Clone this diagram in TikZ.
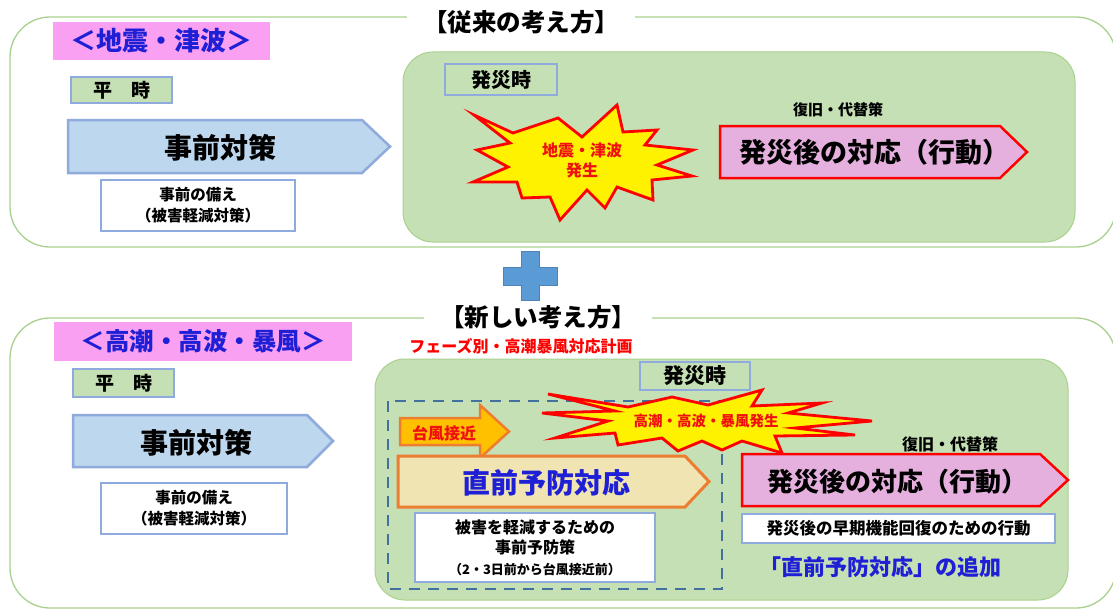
\documentclass[tikz,border=0pt]{standalone}
\usepackage{fontspec}
\setmainfont{Noto Sans CJK JP}
\definecolor{pgreen}{HTML}{A9D18E}
\definecolor{lgreen}{HTML}{C5E0B4}
\definecolor{bblue}{HTML}{8FAADC}
\definecolor{lblue}{HTML}{BDD7EE}
\definecolor{pinkl}{HTML}{F9A0F2}
\definecolor{tblue}{HTML}{1F1FD6}
\definecolor{mauve}{HTML}{E6B0DE}
\definecolor{orng}{HTML}{ED7D31}
\definecolor{goldc}{HTML}{FFC000}
\definecolor{tanc}{HTML}{EFE4B2}
\definecolor{dashcol}{HTML}{41719C}
\definecolor{pluscol}{HTML}{5B9BD5}
\definecolor{redt}{HTML}{F01010}
\newcommand{\fz}[2]{\fontsize{#1pt}{#2pt}\selectfont\bfseries}
\tikzset{
  panel/.style={draw=pgreen, line width=1.3pt, fill=white, rounded corners=40pt},
  gpanel/.style={draw=pgreen, line width=1pt, fill=lgreen, rounded corners=30pt},
  bbox/.style={draw=bblue, line width=2.5pt, inner sep=0pt, align=center},
  title/.style={fill=white, inner xsep=16pt, inner ysep=2pt, font=\fz{24.5}{28}},
  pinklabel/.style={fill=pinkl, inner sep=0pt, text=tblue, font=\fz{26}{30}},
  bluearrow/.style={fill=lblue, draw=bblue, line width=2.5pt, line join=miter},
  pinkarrow/.style={fill=mauve, draw=red, line width=2.5pt, line join=miter},
  tanarrow/.style={fill=tanc, draw=orng, line width=3pt, line join=miter},
  orarrow/.style={fill=goldc, draw=orng, line width=2.5pt, line join=miter},
  burst/.style={fill=yellow, draw=red, line width=2.8pt, line join=miter},
  lbl/.style={inner sep=0pt, align=center},
}
\begin{document}
\begin{tikzpicture}[x=1pt,y=-1pt]
\useasboundingbox (0,0) rectangle (1113,610);
\fill[white] (0,0) rectangle (1113,610);

% ================= top panel =================
\draw[panel] (10,17) rectangle (1116,247);
\node[title] (t1) at (521,22) {【従来の考え方】};
\node[pinklabel, minimum width=217pt, minimum height=38pt] (l1) at (161.5,41) {＜地震・津波＞};
\node[bbox, fill=lgreen, minimum width=101pt, minimum height=26pt, font=\fz{19}{22}] (h1) at (121.5,90) {平　時};
\draw[bluearrow] (68,120) -- (362,120) -- (390,146.5) -- (362,173) -- (68,173) -- cycle;
\node[lbl, font=\fz{28}{32}] (a1) at (220,148) {事前対策};
\node[bbox, fill=white, minimum width=194pt, minimum height=51pt, font=\fz{15.5}{21}] (b1) at (198,205.5) {事前の備え\\（被害軽減対策）};

\draw[gpanel] (403,52) rectangle (1075,242);
\node[bbox, fill=lgreen, minimum width=112pt, minimum height=31pt, font=\fz{20}{24}] (h2) at (501,79.5) {発災時};
\draw[burst] (474,115) -- (513,133) -- (558,118) -- (582,137) -- (617,105) -- (623,132)
  -- (657,130) -- (645,145) -- (693,150) -- (657,165) -- (692,176) -- (652,180)
  -- (653,200) -- (617,187) -- (605,208) -- (587,190) -- (560,220) -- (550,197)
  -- (522,198) -- (517,182) -- (473,182) -- (508,167) -- (477,150) -- (510,143) -- cycle;
\node[lbl, text=redt, font=\fz{16}{20}] (s1) at (582,160) {地震・津波\\発生};
\node[lbl, font=\fz{15}{18}] (r1) at (838,110) {復旧・代替策};
\draw[pinkarrow] (720,126) -- (1000,126) -- (1027,152) -- (1000,178) -- (720,178) -- cycle;
\node[lbl, font=\fz{27}{31}] (p1) at (874,152) {発災後の対応（行動）};

% ================= plus =================
\draw[fill=pluscol, draw=pluscol!85!black, line width=0.6pt]
  (521,251) -- (539,251) -- (539,267) -- (557,267) -- (557,285) -- (539,285)
  -- (539,300) -- (521,300) -- (521,285) -- (503,285) -- (503,267) -- (521,267) -- cycle;

% ================= bottom panel =================
\draw[panel] (10,318) rectangle (1116,608);
\node[title] (t2) at (538,317) {【新しい考え方】};
\node[pinklabel, minimum width=298pt, minimum height=39pt, font=\fz{24.5}{28}] (l2) at (203,341.5) {＜高潮・高波・暴風＞};
\node[bbox, fill=lgreen, minimum width=101pt, minimum height=28pt, font=\fz{19}{22}] (h3) at (123.5,383) {平　時};
\draw[bluearrow] (73,415) -- (307,415) -- (333,441) -- (307,467) -- (73,467) -- cycle;
\node[lbl, font=\fz{28}{32}] (a2) at (196,443) {事前対策};
\node[bbox, fill=white, minimum width=186pt, minimum height=51pt, font=\fz{15.5}{21}] (b2) at (194,508.5) {事前の備え\\（被害軽減対策）};
\node[lbl, text=red, font=\fz{16}{19}] (ph) at (521,346) {フェーズ別・高潮暴風対応計画};

\draw[gpanel] (375,359) rectangle (1068,600);
\node[bbox, fill=lgreen, minimum width=110pt, minimum height=28pt, font=\fz{21}{24}] (h4) at (695,376) {発災時};
\draw[dashcol, line width=2.6pt, dash pattern=on 11pt off 8pt] (388,401) rectangle (722,589);
\draw[orarrow] (400,418) -- (480,418) -- (480,405) -- (509,431.5) -- (480,458) -- (480,445) -- (400,445) -- cycle;
\node[lbl, text=redt, font=\fz{16}{19}] (ty) at (444,433) {台風接近};
\draw[tanarrow] (398,456) -- (685,456) -- (709,481.5) -- (685,507) -- (398,507) -- cycle;
\node[lbl, text=tblue, font=\fz{28}{32}] (cz) at (546,483) {直前予防対応};
\node[bbox, fill=white, minimum width=240pt, minimum height=69pt, font=\fz{16}{20.5}] (b3) at (535,547.5)
  {被害を軽減するための\\事前予防策\\{\fz{13}{17}（2・3日前から台風接近前）}};

\draw[burst] (548,394) -- (628,407) -- (672,397) -- (708,405) -- (762,390) -- (752,406)
  -- (822,403) -- (788,413) -- (872,421) -- (795,428) -- (855,435) -- (775,436)
  -- (782,453) -- (742,441) -- (722,450) -- (702,441) -- (678,451) -- (662,438)
  -- (618,445) -- (615,433) -- (555,438) -- (608,421) -- (542,413) -- (615,411) -- cycle;
\node[lbl, text=redt, font=\fz{14.5}{17}] (s2) at (706,421) {高潮・高波・暴風発生};

\node[lbl, font=\fz{16}{19}] (r2) at (950,444) {復旧・代替策};
\draw[pinkarrow] (742,454) -- (1040,454) -- (1068,480) -- (1040,506) -- (742,506) -- cycle;
\node[lbl, font=\fz{26}{30}] (p2) at (897,482) {発災後の対応（行動）};
\node[bbox, fill=white, minimum width=313pt, minimum height=29pt, font=\fz{16.5}{19}] (b4) at (898.5,528.5) {発災後の早期機能回復のための行動};
\node[lbl, text=tblue, font=\fz{22}{26}] (tz) at (880,567) {「直前予防対応」の追加};
\end{tikzpicture}
\end{document}
